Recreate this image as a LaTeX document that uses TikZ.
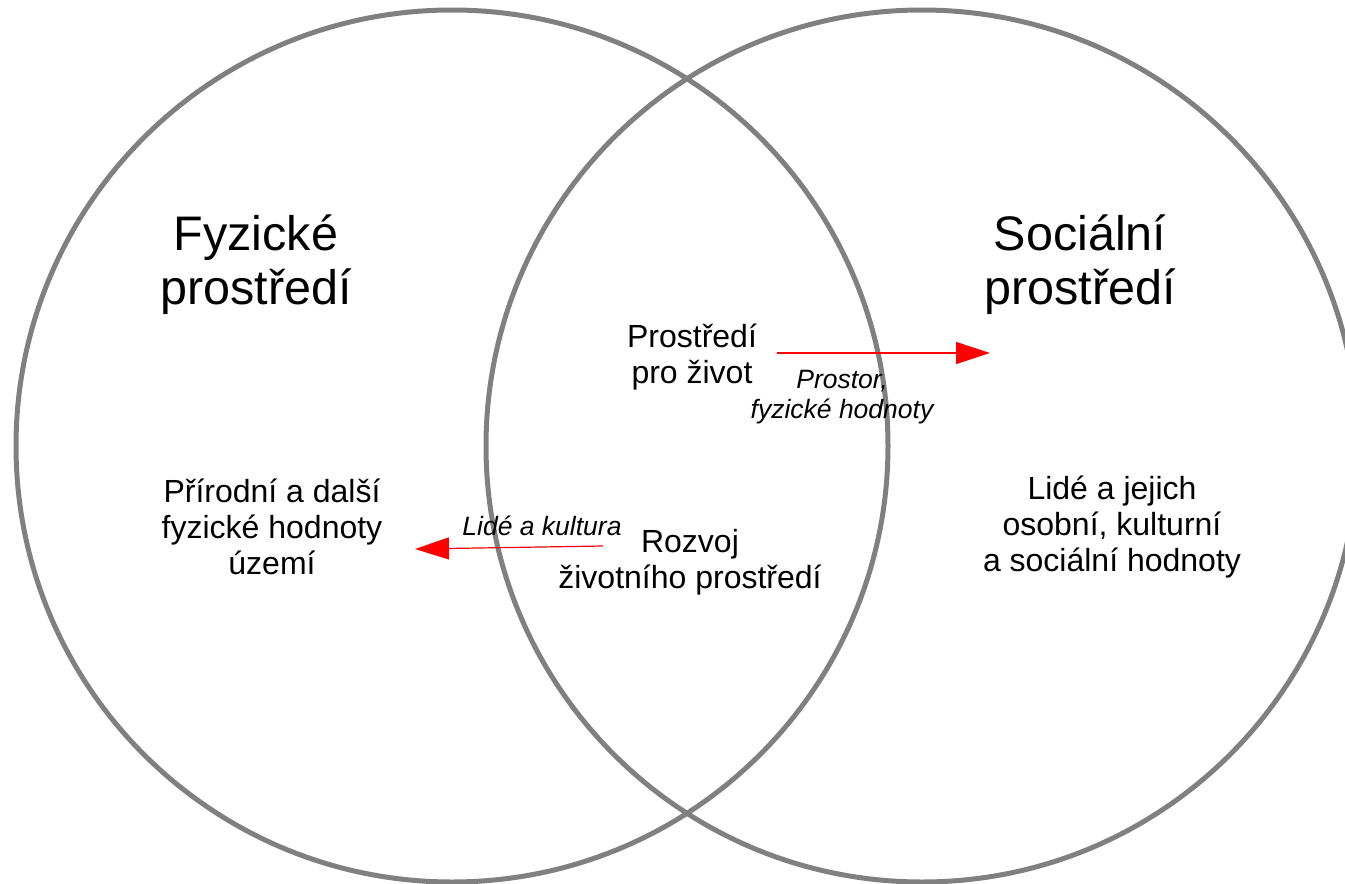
\documentclass[tikz,border=0pt]{standalone}
\usepackage{fontspec}
\setmainfont{Liberation Sans}
\usetikzlibrary{arrows.meta}
\definecolor{ringgray}{HTML}{808080}
\definecolor{arrred}{HTML}{FF0000}
\tikzset{
  ring/.style={draw=ringgray, line width=5pt},
  title/.style={align=center, font=\fontsize{48.5}{54}\selectfont, inner sep=0pt},
  body/.style={align=center, font=\fontsize{32}{36}\selectfont, inner sep=0pt},
  lab/.style={align=center, font=\fontsize{26.5}{30}\selectfont\itshape, inner sep=0pt},
  flow/.style={draw=arrred, line width=1.2pt, -{Triangle[length=34pt,width=22pt]}, arrred}
}
\begin{document}
\begin{tikzpicture}[x=1pt,y=-1pt]
\useasboundingbox (0,0) rectangle (1345,884);
\begin{scope}
\clip (0,0) rectangle (1345,884);
\node[ring, circle, minimum size=872pt, inner sep=0pt] (phys) at (452,446) {};
\node[ring, circle, minimum size=872pt, inner sep=0pt] (soc) at (922,446) {};
\end{scope}
\node[title] (tphys) at (256,265) {Fyzické\\prostředí};
\node[title] (tsoc) at (1080,265) {Sociální\\prostředí};
\node[body] (nat) at (272,527) {Přírodní a další\\fyzické hodnoty\\území};
\node[body] (ppz) at (692,357) {Prostředí\\pro život};
\node[body] (rozv) at (690,562) {Rozvoj\\životního prostředí};
\node[body] (lide) at (1112,527) {Lidé a jejich\\osobní, kulturní\\a sociální hodnoty};
\node[lab] (prostor) at (842,397) {Prostor,\\fyzické hodnoty};
\node[lab] (kultura) at (542,526) {Lidé a kultura};
\coordinate (a1s) at (777,353);
\coordinate (a1e) at (990,353);
\coordinate (a2s) at (603,546);
\coordinate (a2e) at (415,549);
\draw[flow] (a1s) -- (a1e);
\draw[flow] (a2s) -- (a2e);
\end{tikzpicture}
\end{document}
